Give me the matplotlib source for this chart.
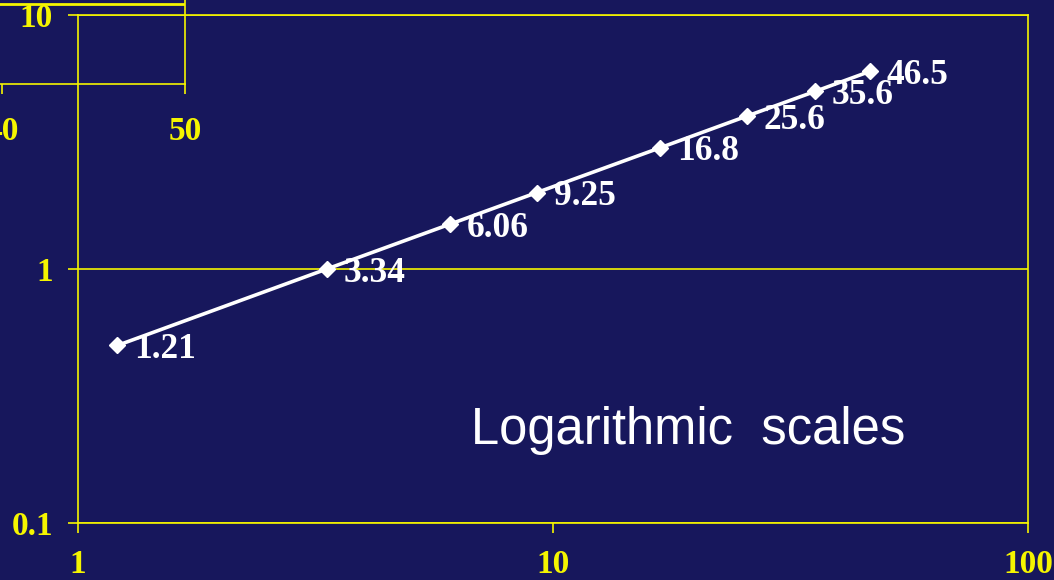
import numpy as np
import matplotlib.pyplot as plt

# data: x values (also shown as point labels) and y values
x_vals = [1.21, 3.34, 6.06, 9.25, 16.8, 25.6, 35.6, 46.5]
y_vals = [0.5, 1.0, 1.5, 2.0, 3.0, 4.0, 5.0, 6.0]
point_labels = ["1.21", "3.34", "6.06", "9.25", "16.8", "25.6", "35.6", "46.5"]

x_ticks = [1, 10, 100]
x_tick_labels = ["1", "10", "100"]
y_ticks = [0.1, 1, 10]
y_tick_labels = ["0.1", "1", "10"]

# leftover linear axis in the corner
lin_ticks = [40, 50]
lin_tick_labels = ["40", "50"]

BG = "#17175c"
YEL = "#f5f500"
serif = ["Liberation Serif", "DejaVu Serif"]
FS = 24
FS_PTS = 25.5

W, H = 1054, 580
fig = plt.figure(figsize=(W / 100, H / 100), dpi=100, facecolor=BG)

ax = fig.add_axes([78 / W, 57 / H, 950 / W, 508 / H])
ax.set_facecolor(BG)
ax.set_xscale("log")
ax.set_yscale("log")
ax.set_xlim(1, 100)
ax.set_ylim(0.1, 10)
ax.set_xticks(x_ticks)
ax.set_xticklabels(x_tick_labels)
ax.set_yticks(y_ticks)
ax.set_yticklabels(y_tick_labels)
ax.minorticks_off()
for sp in ax.spines.values():
    sp.set_color(YEL)
    sp.set_linewidth(1.2)
ax.tick_params(axis="both", colors=YEL, length=7, width=1.2, labelsize=FS)
ax.tick_params(axis="x", pad=12)
ax.tick_params(axis="y", pad=11)
for lab in ax.get_xticklabels() + ax.get_yticklabels():
    lab.set_family(serif)
    lab.set_fontweight("bold")
ax.yaxis.grid(True, color=YEL, linewidth=1.2)
ax.set_axisbelow(True)

ax.plot(x_vals, y_vals, color="white", linewidth=2.6, marker="D",
        markersize=8, markerfacecolor="white", markeredgecolor="white", zorder=3)
for xv, yv, lab in zip(x_vals, y_vals, point_labels):
    ax.annotate(lab, (xv, yv), xytext=(12, -3), textcoords="offset points",
                ha="left", va="center", color="white", fontsize=FS_PTS,
                family=serif, fontweight="bold")

ax.text(0.642, 0.183, "Logarithmic  scales", transform=ax.transAxes,
        ha="center", va="center", color="white", fontsize=36.5,
        family=["Liberation Sans", "DejaVu Sans"])

# small linear axes hanging off the top-left corner
ax2 = fig.add_axes([-181 / W, (H - 84) / H, 366 / W, 100 / H])
ax2.patch.set_alpha(0)
ax2.set_xlim(30, 50)
ax2.set_ylim(0, 100)
ax2.set_xticks(lin_ticks)
ax2.set_xticklabels(lin_tick_labels)
ax2.set_yticks([80])
ax2.set_yticklabels([])
ax2.tick_params(axis="y", length=0)
ax2.yaxis.grid(True, color=YEL, linewidth=2)
for sp in ax2.spines.values():
    sp.set_color(YEL)
    sp.set_linewidth(1.2)
ax2.tick_params(axis="x", colors=YEL, length=7, width=1.2, labelsize=FS, pad=16)
for lab in ax2.get_xticklabels():
    lab.set_family(serif)
    lab.set_fontweight("bold")

fig.savefig("out.png", dpi=100, facecolor=BG)
